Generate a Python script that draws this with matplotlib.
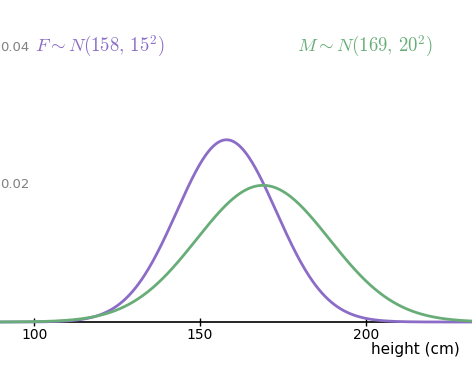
import numpy as np
import matplotlib.pyplot as plt

plt.rcParams['mathtext.fontset'] = 'cm'

# distribution parameters (mean, sd)
names = ['F', 'M']
means = [158, 169]
sds = [15, 20]
colors = ['#8b6cc6', '#68ad78']
label_pos = [(0.074, 0.88), (0.63, 0.88)]

xticks = [100, 150, 200]
yticks = [0.02, 0.04]

x = np.linspace(89.7, 232, 600)

fig = plt.figure(figsize=(4.72, 3.91), dpi=100)
ax = fig.add_axes([0, 0, 1, 1])

for name, mu, sd, c, pos in zip(names, means, sds, colors, label_pos):
    y = np.exp(-0.5 * ((x - mu) / sd) ** 2) / (sd * np.sqrt(2 * np.pi))
    ax.plot(x, y, color=c, lw=2, solid_capstyle='butt', zorder=3)
    ax.text(pos[0], pos[1], r'$%s \sim N(%d,\, %d^2)$' % (name, mu, sd),
            transform=ax.transAxes, color=c, fontsize=13.5, ha='left', va='center')

ax.set_xlim(89.7, 232)
ax.set_ylim(-0.01007, 0.0470)

for sp in ['left', 'right', 'top']:
    ax.spines[sp].set_visible(False)
ax.spines['bottom'].set_position(('data', 0))
ax.spines['bottom'].set_linewidth(1.2)
ax.spines['bottom'].set_zorder(2)

ax.set_xticks(xticks)
ax.tick_params(axis='x', direction='inout', length=6, width=1, labelsize=10, pad=1.5)
ax.set_yticks([])

for v in yticks:
    ax.text(0.0, v, '%.2f' % v, transform=ax.get_yaxis_transform(),
            color='#808080', fontsize=9.5, ha='left', va='center')

ax.text(0.975, 0.105, 'height (cm)', transform=ax.transAxes,
        fontsize=11, ha='right', va='center')

fig.savefig('out.png', dpi=100)
